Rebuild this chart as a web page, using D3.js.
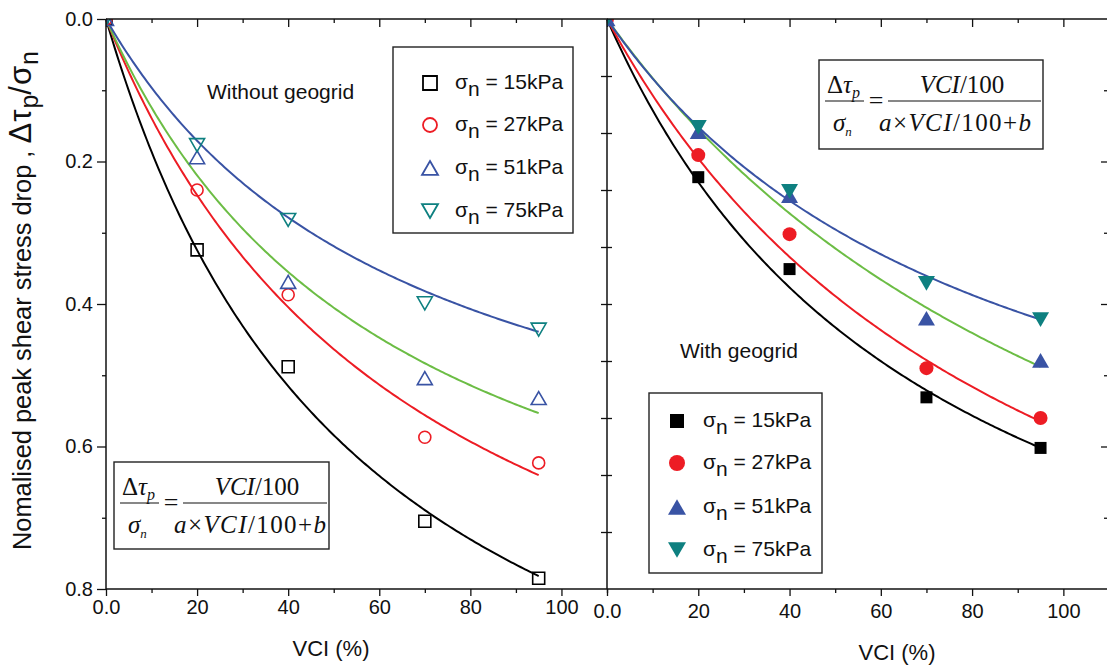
<!DOCTYPE html>
<html>
<head>
<meta charset="utf-8">
<script src="https://cdn.jsdelivr.net/npm/d3@7"></script>
<style>
  body { margin: 0; background: #fff; }
  svg { display: block; }
  text { font-family: 'Liberation Sans', Arial, sans-serif; fill: #111; }
  .serif text { font-family: 'Liberation Serif', 'Times New Roman', serif; }
</style>
</head>
<body>
<svg id="chart" width="1107" height="668"></svg>
<script>
// ---- data ----
const vci = [0, 20, 40, 70, 95];
const pressures = ['15kPa', '27kPa', '51kPa', '75kPa'];
const markerColors = ['#000000', '#ed1c24', '#3953a4', '#0e8080'];
const markerShapes = ['square', 'circle', 'up', 'down'];

// without geogrid
const without15 = [0, 0.324, 0.488, 0.705, 0.785];
const without27 = [0, 0.240, 0.387, 0.587, 0.623];
const without51 = [0, 0.194, 0.369, 0.504, 0.532];
const without75 = [0, 0.177, 0.282, 0.399, 0.436];
// with geogrid
const with15 = [0, 0.222, 0.351, 0.531, 0.602];
const with27 = [0, 0.191, 0.302, 0.490, 0.560];
const with51 = [0, 0.158, 0.248, 0.420, 0.479];
const with75 = [0, 0.152, 0.242, 0.371, 0.422];

// fitted curves: dtau/sigma = (VCI/100) / (a*VCI/100 + b), one per line colour
const fitColors = ['#000000', '#ed1c24', '#6cbd45', '#3953a4'];
const fitAWithout = [0.798, 0.900, 1.074, 1.324];
const fitBWithout = [0.457, 0.629, 0.697, 0.906];
const fitAWith = [0.939, 0.880, 0.873, 1.242];
const fitBWith = [0.686, 0.846, 1.117, 1.072];
const fitEnd = 95;

const xTicks = [0, 20, 40, 60, 80, 100];
const xMinorTicks = [10, 30, 50, 70, 90, 110];
const xTickLabels = ['0.0', '20', '40', '60', '80', '100'];
const yTicks = [0, 0.2, 0.4, 0.6, 0.8];
const yMinorTicks = [0.1, 0.3, 0.5, 0.7];
const yTickLabels = ['0.0', '0.2', '0.4', '0.6', '0.8'];
const dividerTicks = [0.1, 0.2, 0.3, 0.4, 0.5, 0.6, 0.7, 0.8, 0.9];

const svg = d3.select('#chart');

// ---- layout ----
const plotTop = 19, plotBottom = 589;
const leftX0 = 106, divX = 607, rightX1 = 1109;

const y = d3.scaleLinear().domain([0, 0.8]).range([plotTop, plotBottom]);
const yDiv = d3.scaleLinear().domain([0, 1]).range([plotTop, plotBottom]);
const xLeft = d3.scaleLinear().domain([0, 110]).range([leftX0, divX]);
const xRight = d3.scaleLinear().domain([0, 110]).range([divX, rightX1]);

function symbolPath(shape, size) {
  if (shape === 'square') return d3.symbol(d3.symbolSquare, size * size)();
  if (shape === 'circle') return d3.symbol(d3.symbolCircle, Math.PI * size * size / 4)();
  const h = size * Math.sqrt(3) / 2;
  // triangle with its bounding box centred on the point
  if (shape === 'up') return `M0,${-h / 2}L${size / 2},${h / 2}L${-size / 2},${h / 2}Z`;
  return `M0,${h / 2}L${size / 2},${-h / 2}L${-size / 2},${-h / 2}Z`;
}

function drawAxes(g, x, opts) {
  const minor = xMinorTicks.filter(v => x(v) < 1107);
  const bAxis = g.append('g').attr('transform', `translate(0,${plotBottom})`);
  bAxis.call(d3.axisBottom(x).tickValues(xTicks).tickSize(7).tickPadding(opts.labelPad)
    .tickFormat((d, i) => xTickLabels[i]));
  bAxis.append('g').call(d3.axisBottom(x).tickValues(minor).tickSize(4).tickFormat(''));
  const tAxis = g.append('g').attr('transform', `translate(0,${plotTop})`);
  tAxis.call(d3.axisBottom(x).tickValues(xTicks).tickSize(8).tickFormat(''));
  tAxis.append('g').call(d3.axisBottom(x).tickValues(minor).tickSize(4).tickFormat(''));
  g.selectAll('.domain').remove();
  g.selectAll('.tick line').attr('stroke', '#111').attr('stroke-width', 1.3);
  g.selectAll('.tick text').style('font-size', '20px').attr('fill', '#111');
}

function drawPanel(opts) {
  const g = svg.append('g');
  const x = opts.x;
  const x0 = x.range()[0], x1 = x.range()[1];

  const clipId = 'clip-' + opts.id;
  svg.append('clipPath').attr('id', clipId)
    .append('rect').attr('x', x0).attr('y', plotTop).attr('width', x1 - x0).attr('height', plotBottom - plotTop);

  drawAxes(g, x, opts);

  // fitted curves
  const line = d3.line().x(d => x(d[0])).y(d => y(d[1]));
  opts.fitA.forEach((a, i) => {
    const b = opts.fitB[i];
    const pts = d3.range(0, fitEnd + 0.01, 0.5).map(v => [v, (v / 100) / (a * v / 100 + b)]);
    g.append('path').datum(pts).attr('d', line)
      .attr('fill', 'none').attr('stroke', fitColors[i]).attr('stroke-width', 2);
  });

  // markers
  const mg = g.append('g').attr('clip-path', `url(#${clipId})`);
  opts.series.forEach((vals, i) => {
    mg.selectAll(null).data(vals).enter().append('path')
      .attr('transform', (d, k) => `translate(${x(vci[k])},${y(d)})`)
      .attr('d', symbolPath(markerShapes[i], opts.markerSize[i]))
      .attr('fill', opts.filled ? markerColors[i] : 'none')
      .attr('stroke', markerColors[i])
      .attr('stroke-width', opts.filled ? 0 : 1.6);
  });

  // frame
  g.append('line').attr('x1', x0).attr('x2', Math.min(x1, 1107)).attr('y1', plotTop).attr('y2', plotTop)
    .attr('stroke', '#111').attr('stroke-width', 1.5);
  g.append('line').attr('x1', x0).attr('x2', Math.min(x1, 1107)).attr('y1', plotBottom).attr('y2', plotBottom)
    .attr('stroke', '#111').attr('stroke-width', 1.5);
  return g;
}

function drawLegend(box, filled, sizes) {
  const g = svg.append('g');
  g.append('rect').attr('x', box.x).attr('y', box.y).attr('width', box.w).attr('height', box.h)
    .attr('fill', '#fff').attr('stroke', '#222').attr('stroke-width', 1.4);
  pressures.forEach((p, i) => {
    const cy = box.rows[i];
    g.append('path').attr('transform', `translate(${box.mx},${cy})`)
      .attr('d', symbolPath(markerShapes[i], sizes[i]))
      .attr('fill', filled ? markerColors[i] : 'none')
      .attr('stroke', markerColors[i]).attr('stroke-width', filled ? 0 : 1.8);
    const t = g.append('text').attr('x', box.tx).attr('y', cy + 6).style('font-size', '21px');
    t.append('tspan').text('σ');
    t.append('tspan').attr('dy', 7).text('n');
    t.append('tspan').attr('dy', -7).text(' = ' + p);
  });
}

function drawFormula(bx, by, bw, bh) {
  const g = svg.append('g').attr('class', 'serif');
  g.append('rect').attr('x', bx).attr('y', by).attr('width', bw).attr('height', bh)
    .attr('fill', '#fff').attr('stroke', '#222').attr('stroke-width', 1.4);
  const fy = by + 41;
  g.append('line').attr('x1', bx + 6).attr('x2', bx + 45).attr('y1', fy).attr('y2', fy)
    .attr('stroke', '#111').attr('stroke-width', 1.2);
  g.append('line').attr('x1', bx + 69).attr('x2', bx + bw - 2).attr('y1', fy).attr('y2', fy)
    .attr('stroke', '#111').attr('stroke-width', 1.2);
  const fs = '25px';
  let t = g.append('text').attr('x', bx + 8).attr('y', by + 33).style('font-size', fs);
  t.append('tspan').text('Δ');
  t.append('tspan').style('font-style', 'italic').text('τ');
  t.append('tspan').style('font-style', 'italic').style('font-size', '16px').attr('dy', 5).text('p');
  t = g.append('text').attr('x', bx + 14).attr('y', by + 71).style('font-size', fs);
  t.append('tspan').style('font-style', 'italic').text('σ');
  t.append('tspan').style('font-style', 'italic').style('font-size', '13px').attr('dy', 5).text('n');
  g.append('text').attr('x', bx + 57).attr('y', by + 49).attr('text-anchor', 'middle')
    .style('font-size', '26px').text('=');
  t = g.append('text').attr('x', bx + 143).attr('y', by + 33).attr('text-anchor', 'middle').style('font-size', fs);
  t.append('tspan').style('font-style', 'italic').text('VCI');
  t.append('tspan').text('/100');
  t = g.append('text').attr('x', bx + 60).attr('y', by + 71).style('font-size', fs)
    .attr('textLength', 152).attr('lengthAdjust', 'spacing');
  t.append('tspan').style('font-style', 'italic').text('a');
  t.append('tspan').text('×');
  t.append('tspan').style('font-style', 'italic').text('VCI');
  t.append('tspan').text('/100+');
  t.append('tspan').style('font-style', 'italic').text('b');
}

// ---- left panel: without geogrid ----
drawPanel({
  id: 'left', x: xLeft, labelPad: 4, filled: false,
  series: [without15, without27, without51, without75],
  fitA: fitAWithout, fitB: fitBWithout,
  markerSize: [12, 12, 15, 15]
});
// ---- right panel: with geogrid ----
drawPanel({
  id: 'right', x: xRight, labelPad: 8, filled: true,
  series: [with15, with27, with51, with75],
  fitA: fitAWith, fitB: fitBWith,
  markerSize: [12, 14, 17, 17]
});

// left y axis with labels
const yAxisG = svg.append('g').attr('transform', `translate(${leftX0},0)`);
yAxisG.call(d3.axisLeft(y).tickValues(yTicks).tickSize(9).tickPadding(4).tickFormat((d, i) => yTickLabels[i]));
yAxisG.append('g').call(d3.axisLeft(y).tickValues(yMinorTicks).tickSize(4).tickFormat(''));
yAxisG.selectAll('.domain').remove();
yAxisG.append('line').attr('y1', plotTop).attr('y2', plotBottom).attr('stroke', '#111').attr('stroke-width', 1.5);
yAxisG.selectAll('.tick line').attr('stroke', '#111').attr('stroke-width', 1.3);
yAxisG.selectAll('.tick text').style('font-size', '20px').attr('fill', '#111');

// divider: right axis of left panel + left axis of right panel
const divG = svg.append('g').attr('transform', `translate(${divX},0)`);
divG.call(d3.axisLeft(yDiv).tickValues(dividerTicks).tickSize(-5).tickFormat(''));
divG.append('g').call(d3.axisLeft(yDiv).tickValues(dividerTicks).tickSize(6).tickFormat(''));
divG.selectAll('.domain').remove();
divG.selectAll('.tick line').attr('stroke', '#111').attr('stroke-width', 1.3);
divG.append('line').attr('y1', plotTop).attr('y2', plotBottom).attr('stroke', '#111').attr('stroke-width', 1.5);

// right axis of right panel (line itself just off the page)
const rG = svg.append('g').attr('transform', `translate(${rightX1},0)`);
rG.call(d3.axisRight(y).tickValues(yTicks.slice(1, 4)).tickSize(-8).tickFormat(''));
rG.append('g').call(d3.axisRight(y).tickValues(yMinorTicks).tickSize(-5).tickFormat(''));
rG.selectAll('.domain').remove();
rG.selectAll('.tick line').attr('stroke', '#111').attr('stroke-width', 1.3);

// legends and formula boxes
drawLegend({ x: 393, y: 47, w: 180, h: 186, mx: 430, tx: 455, rows: [83, 125, 168, 211] }, false, [14, 14, 16, 16]);
drawLegend({ x: 649, y: 393, w: 173, h: 180, mx: 677, tx: 703, rows: [421, 463, 507, 550] }, true, [14, 16, 18, 18]);
drawFormula(114, 462, 215, 87);
drawFormula(819, 60, 224, 89);

// annotations
svg.append('text').attr('x', 207).attr('y', 99).style('font-size', '21px').text('Without geogrid');
svg.append('text').attr('x', 680).attr('y', 358).style('font-size', '21px').text('With geogrid');

// axis titles
svg.append('text').attr('x', 331).attr('y', 656).attr('text-anchor', 'middle').style('font-size', '22px').text('VCI (%)');
svg.append('text').attr('x', 897).attr('y', 660).attr('text-anchor', 'middle').style('font-size', '22px').text('VCI (%)');

// y title: plain words, then larger greek symbols with subscripts
const yt = svg.append('text').attr('transform', 'translate(31,550) rotate(-90)');
yt.append('tspan').style('font-size', '25.4px').text('Nomalised peak shear stress drop , ');
yt.append('tspan').style('font-size', '31px').attr('letter-spacing', 1).text('Δτ');
yt.append('tspan').style('font-size', '25px').attr('dy', 7).text('p');
yt.append('tspan').style('font-size', '31px').attr('dy', -7).attr('letter-spacing', 1).text('/σ');
yt.append('tspan').style('font-size', '25px').attr('dy', 7).text('n');
</script>
</body>
</html>
